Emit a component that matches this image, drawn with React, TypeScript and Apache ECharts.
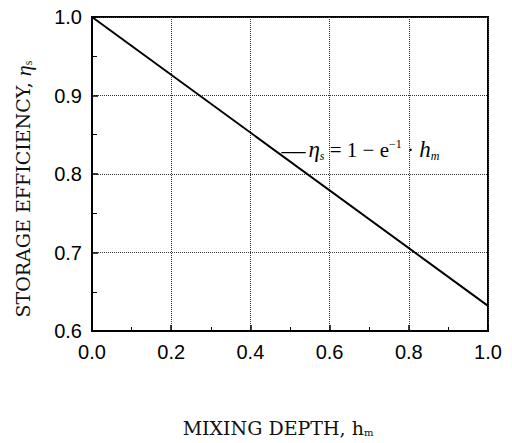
import React, { useEffect, useRef } from "react";
import * as echarts from "echarts";

// Mixing depth h_m (x) and storage efficiency η_s (y)
const mixingDepth = [0.0, 1.0];
const storageEfficiency = [1.0, 0.632];
const xTicks = [0.0, 0.2, 0.4, 0.6, 0.8, 1.0];
const yTicks = [0.6, 0.7, 0.8, 0.9, 1.0];
const labelAnchor = [0.472, 0.831];

const SERIF = "'DejaVu Serif', 'Liberation Serif', serif";
const MATH = "'Liberation Serif', 'DejaVu Serif', serif";
const SANS = "'Liberation Sans', Arial, sans-serif";

export default function App() {
  const ref = useRef<HTMLDivElement>(null);

  useEffect(() => {
    if (!ref.current) return;
    const chart = echarts.init(ref.current, null, { renderer: "svg" });
    const points = mixingDepth.map((x, i) => [x, storageEfficiency[i]]);

    chart.setOption({
      animation: false,
      backgroundColor: "#ffffff",
      grid: {
        left: 92,
        top: 17,
        right: 24,
        bottom: 112,
        show: true,
        borderColor: "#000",
        borderWidth: 2,
        backgroundColor: "transparent",
      },
      xAxis: {
        type: "value",
        min: xTicks[0],
        max: xTicks[xTicks.length - 1],
        interval: 0.2,
        name: "MIXING DEPTH, {h|h}{sub|m}",
        nameLocation: "middle",
        nameGap: 87,
        nameTextStyle: {
          fontFamily: SERIF,
          fontSize: 19,
          color: "#111",
          padding: [0, 24, 0, 0],
          rich: {
            h: { fontFamily: SERIF, fontSize: 19, color: "#111" },
            sub: { fontFamily: SERIF, fontSize: 10, color: "#111", verticalAlign: "bottom", padding: [7, 0, 0, 0] },
          },
        },
        axisLine: { show: true, lineStyle: { color: "#000", width: 2 } },
        axisTick: { show: true, inside: true, length: 6, lineStyle: { color: "#000", width: 1.5 } },
        minorTick: { show: true, splitNumber: 2, length: 4, lineStyle: { color: "#000", width: 1 } },
        axisLabel: {
          margin: 11,
          fontFamily: SANS,
          fontSize: 20,
          color: "#000",
          formatter: (v: number) => v.toFixed(1),
        },
        splitLine: { show: true, lineStyle: { color: "#333", type: "dotted", width: 1 } },
      },
      yAxis: {
        type: "value",
        min: yTicks[0],
        max: yTicks[yTicks.length - 1],
        interval: 0.1,
        name: "STORAGE EFFICIENCY, {eta|η}{sub|s}",
        nameLocation: "middle",
        nameRotate: 90,
        nameGap: 58,
        nameTextStyle: {
          fontFamily: SERIF,
          fontSize: 19,
          color: "#111",
          padding: [0, 30, 0, 0],
          rich: {
            eta: { fontFamily: MATH, fontSize: 22, fontStyle: "italic", color: "#111" },
            sub: { fontFamily: MATH, fontSize: 12, color: "#111", verticalAlign: "bottom" },
          },
        },
        axisLine: { show: true, lineStyle: { color: "#000", width: 2 } },
        axisTick: { show: true, inside: true, length: 6, lineStyle: { color: "#000", width: 1.5 } },
        minorTick: { show: true, splitNumber: 2, length: 5, lineStyle: { color: "#000", width: 1 } },
        axisLabel: {
          margin: 10,
          fontFamily: SANS,
          fontSize: 20,
          color: "#000",
          formatter: (v: number) => v.toFixed(1),
        },
        splitLine: { show: true, lineStyle: { color: "#333", type: "dotted", width: 1 } },
      },
      series: [
        {
          type: "line",
          data: points,
          symbol: "none",
          lineStyle: { color: "#000", width: 2 },
          markPoint: {
            symbol: "circle",
            symbolSize: 1,
            itemStyle: { color: "rgba(0,0,0,0)" },
            data: [
              {
                coord: labelAnchor,
                label: {
                  show: true,
                  position: "right",
                  distance: 2,
                  formatter: "{d|—}{eta|η}{sub|s}{n| = 1 − e}{sup|−1}{n| · }{eta|h}{sub|m}",
                  rich: {
                    d: { fontFamily: MATH, fontSize: 24, color: "#000", padding: [0, 3, 0, 0] },
                    eta: { fontFamily: MATH, fontSize: 23, fontStyle: "italic", color: "#000" },
                    sub: { fontFamily: MATH, fontSize: 12, fontStyle: "italic", color: "#000", verticalAlign: "bottom", padding: [8, 0, 0, 0] },
                    n: { fontFamily: MATH, fontSize: 21, color: "#000" },
                    sup: { fontFamily: MATH, fontSize: 12, color: "#000", verticalAlign: "top", padding: [0, 0, 8, 0] },
                  },
                },
              },
            ],
          },
        },
      ],
    });

    return () => chart.dispose();
  }, []);

  return (
    <div
      ref={ref}
      style={{ position: "fixed", left: 0, top: 0, width: 512, height: 443, background: "#fff" }}
    />
  );
}
